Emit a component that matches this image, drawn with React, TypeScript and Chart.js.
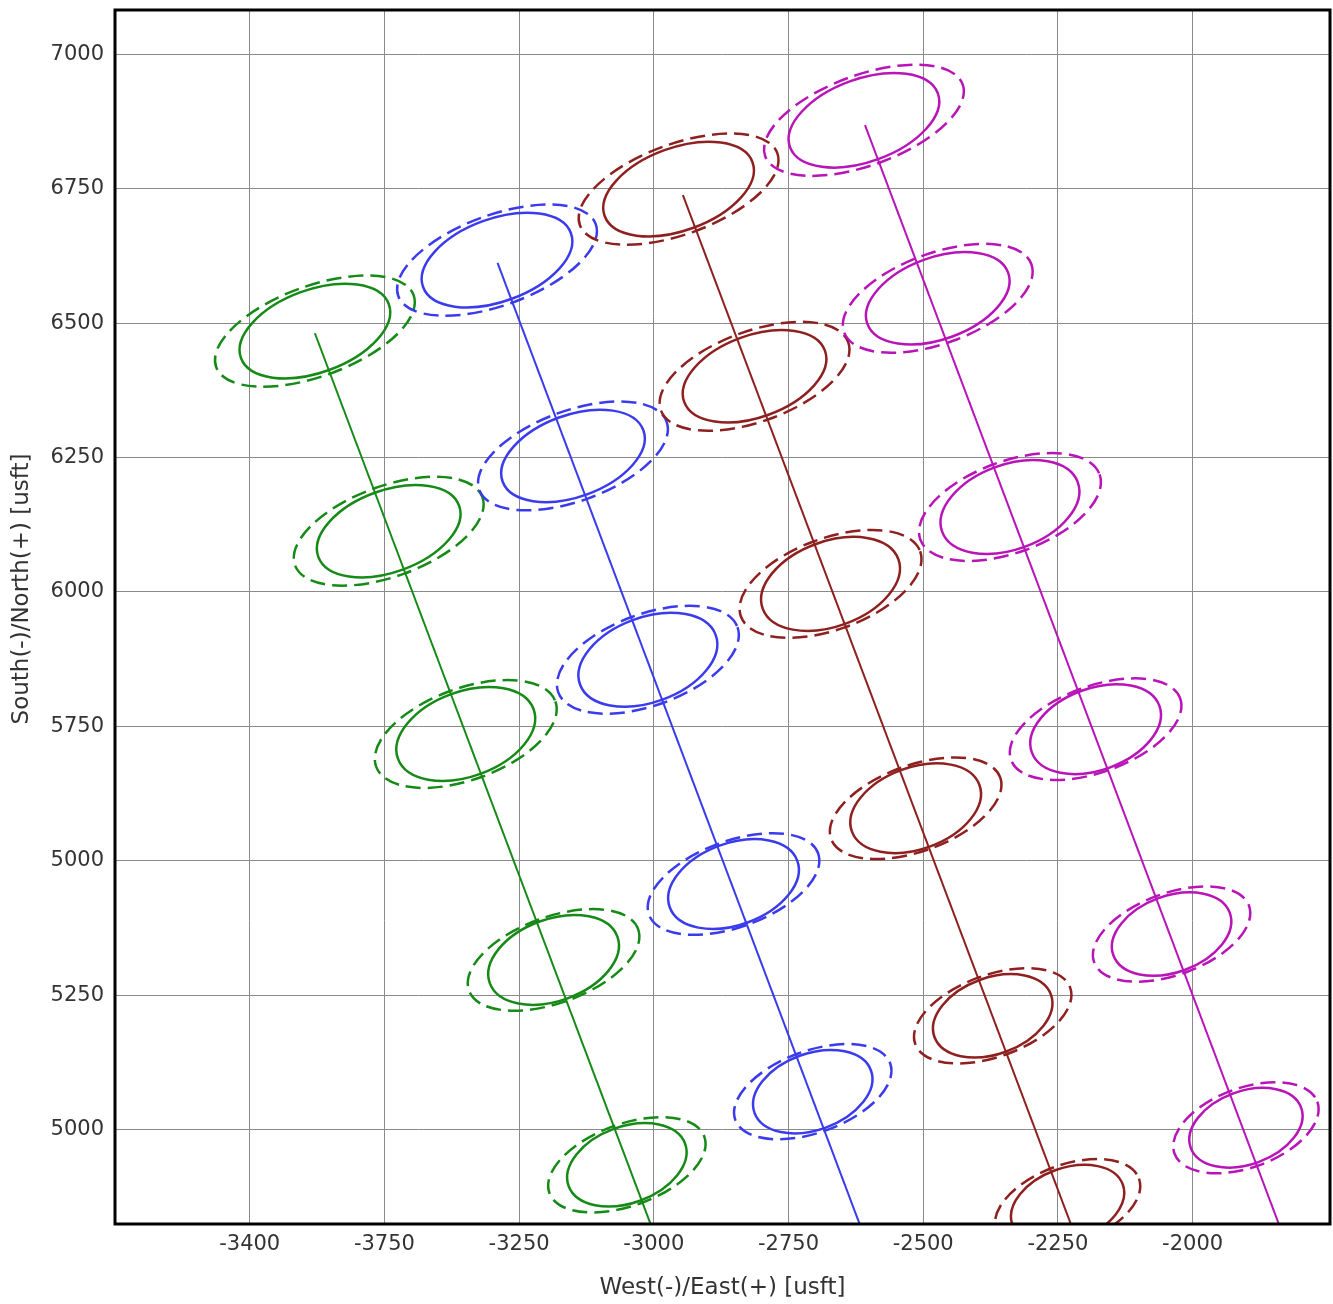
import React, { useEffect, useRef } from 'react';
import { Chart, registerables } from 'chart.js';

Chart.register(...registerables);

// Axis ticks (values on the scale and their printed labels)
const xTickValues = [-3750, -3500, -3250, -3000, -2750, -2500, -2250, -2000];
const xTickLabels = ['-3400', '-3750', '-3250', '-3000', '-2750', '-2500', '-2250', '-2000'];
const yTickValues = [7000, 6750, 6500, 6250, 6000, 5750, 5500, 5250, 5000];
const yTickLabels = ['7000', '6750', '6500', '6250', '6000', '5750', '5000', '5250', '5000'];

const xTitle = 'West(-)/East(+) [usft]';
const yTitle = 'South(-)/North(+) [usft]';

// Well paths (start and end points, in usft)
const greenPathX = [-3629, -2959];
const greenPathY = [6481, 4700];
const bluePathX = [-3290, -2571];
const bluePathY = [6612, 4700];
const brownPathX = [-2946, -2179];
const brownPathY = [6738, 4700];
const magentaPathX = [-2608, -1793];
const magentaPathY = [6868, 4700];

// Uncertainty ellipse centres along each well (usft)
const greenEllipseX = [-3629, -3492, -3349, -3186, -3050];
const greenEllipseY = [6485, 6113, 5736, 5316, 4935];
const blueEllipseX = [-3291, -3150, -3011, -2852, -2705];
const blueEllipseY = [6617, 6253, 5874, 5457, 5071];
const brownEllipseX = [-2954, -2813, -2672, -2514, -2371, -2232];
const brownEllipseY = [6749, 6401, 6015, 5598, 5212, 4861];
const magentaEllipseX = [-2610, -2473, -2339, -2180, -2039, -1901];
const magentaEllipseY = [6877, 6546, 6158, 5745, 5364, 5004];

// Ellipse semi-axes by station index (usft)
const solidMajor = [146, 139, 134, 126, 115, 109];
const solidMinor = [77, 76, 79, 76, 71, 68];
const dashMajor = [195, 185, 177, 167, 153, 141];
const dashMinor = [84, 84, 85, 80, 76, 74];
const ellipseTiltDeg = 20;

const wellNames = ['Well A', 'Well B', 'Well C', 'Well D'];
const wellColors = ['#168a16', '#3b3bee', '#8e2020', '#b814b8'];

const wells = [
  { px: greenPathX, py: greenPathY, ex: greenEllipseX, ey: greenEllipseY },
  { px: bluePathX, py: bluePathY, ex: blueEllipseX, ey: blueEllipseY },
  { px: brownPathX, py: brownPathY, ex: brownEllipseX, ey: brownEllipseY },
  { px: magentaPathX, py: magentaPathY, ex: magentaEllipseX, ey: magentaEllipseY },
];

const X_MIN = -4000;
const X_MAX = -1745;
const Y_MIN = 4825;
const Y_MAX = 7082;

const FONT = "'DejaVu Sans', sans-serif";

const ellipsePlugin = {
  id: 'ellipses',
  afterDatasetsDraw(chart: any) {
    const { ctx, chartArea, scales } = chart;
    const xs = scales.x;
    const ys = scales.y;
    ctx.save();
    ctx.beginPath();
    ctx.rect(chartArea.left, chartArea.top, chartArea.right - chartArea.left, chartArea.bottom - chartArea.top);
    ctx.clip();
    const rot = (-ellipseTiltDeg * Math.PI) / 180;
    wells.forEach((w, wi) => {
      ctx.strokeStyle = wellColors[wi];
      ctx.lineWidth = 2.5;
      w.ex.forEach((cx: number, i: number) => {
        const cy = w.ey[i];
        const pcx = xs.getPixelForValue(cx);
        const pcy = ys.getPixelForValue(cy);
        const draw = (a: number, b: number, dash: number[]) => {
          const ap = Math.abs(xs.getPixelForValue(cx + a) - pcx);
          const bp = Math.abs(ys.getPixelForValue(cy + b) - pcy);
          ctx.beginPath();
          ctx.setLineDash(dash);
          ctx.ellipse(pcx, pcy, ap, bp, rot, 0, Math.PI * 2);
          ctx.stroke();
        };
        draw(solidMajor[i], solidMinor[i], []);
        draw(dashMajor[i], dashMinor[i], [15, 7]);
      });
    });
    ctx.restore();
  },
  afterDraw(chart: any) {
    const { ctx, chartArea } = chart;
    ctx.save();
    ctx.strokeStyle = '#000';
    ctx.lineWidth = 3;
    ctx.setLineDash([]);
    ctx.strokeRect(chartArea.left, chartArea.top, chartArea.right - chartArea.left, chartArea.bottom - chartArea.top);
    ctx.fillStyle = '#333';
    ctx.font = `23px ${FONT}`;
    ctx.textAlign = 'center';
    ctx.textBaseline = 'middle';
    ctx.fillText(xTitle, (chartArea.left + chartArea.right) / 2, 1288);
    ctx.translate(22, 589);
    ctx.rotate(-Math.PI / 2);
    ctx.fillText(yTitle, 0, 0);
    ctx.restore();
  },
};

export default function App() {
  const ref = useRef<HTMLCanvasElement>(null);
  useEffect(() => {
    if (!ref.current) return;
    const datasets = wells.map((w, wi) => ({
      label: wellNames[wi],
      data: w.px.map((x: number, i: number) => ({ x, y: w.py[i] })),
      showLine: true,
      borderColor: wellColors[wi],
      backgroundColor: wellColors[wi],
      borderWidth: 2,
      pointRadius: 0,
      fill: false,
    }));
    const chart = new Chart(ref.current, {
      type: 'scatter',
      data: { datasets },
      plugins: [ellipsePlugin],
      options: {
        responsive: false,
        animation: false,
        layout: { padding: { left: 0, right: 3, top: 10, bottom: 0 } },
        plugins: { legend: { display: false }, tooltip: { enabled: false } },
        scales: {
          x: {
            type: 'linear',
            min: X_MIN,
            max: X_MAX,
            afterBuildTicks: (s: any) => {
              s.ticks = xTickValues.map((v) => ({ value: v }));
            },
            afterFit: (s: any) => {
              s.height = 80;
              s.paddingLeft = 0;
              s.paddingRight = 0;
            },
            ticks: {
              callback: (_v: any, i: number) => xTickLabels[i],
              font: { family: FONT, size: 21 },
              color: '#333',
              padding: 8,
              maxRotation: 0,
              autoSkip: false,
            },
            grid: { color: '#8a8a8a', lineWidth: 1, drawTicks: false },
            border: { display: false },
          },
          y: {
            type: 'linear',
            min: Y_MIN,
            max: Y_MAX,
            afterBuildTicks: (s: any) => {
              s.ticks = yTickValues.map((v) => ({ value: v }));
            },
            afterFit: (s: any) => {
              s.width = 115;
              s.paddingTop = 0;
              s.paddingBottom = 0;
            },
            ticks: {
              callback: (_v: any, i: number) => yTickLabels[i],
              font: { family: FONT, size: 21 },
              color: '#333',
              padding: 11,
              autoSkip: false,
            },
            grid: { color: '#8a8a8a', lineWidth: 1, drawTicks: false },
            border: { display: false },
          },
        },
      },
    } as any);
    return () => chart.destroy();
  }, []);
  return (
    <div style={{ position: 'absolute', left: 0, top: 0, width: 1333, height: 1304, background: '#fff' }}>
      <canvas ref={ref} width={1333} height={1304} />
    </div>
  );
}
